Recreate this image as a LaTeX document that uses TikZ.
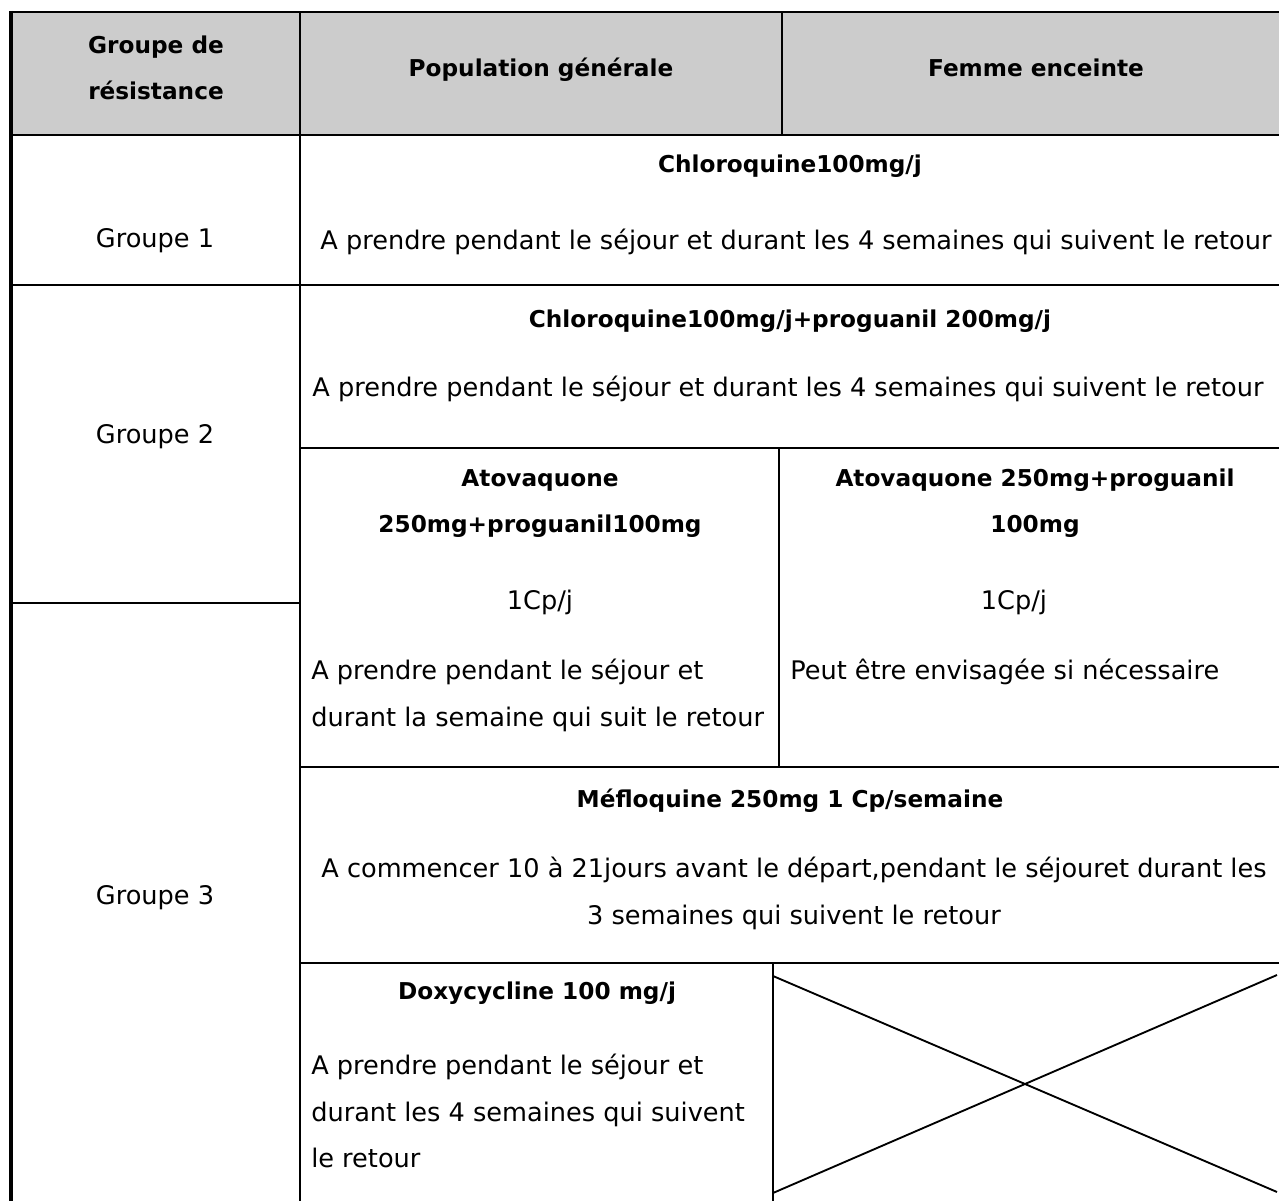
\documentclass[tikz,border=0pt]{standalone}
\usepackage{fontspec}
\setmainfont{DejaVu Sans}
\definecolor{hdr}{RGB}{204,204,204}
\begin{document}
\begin{tikzpicture}[x=0.75pt,y=-0.75pt,
  reg/.style={font=\fontsize{19.2}{22}\selectfont, inner sep=0pt, anchor=mid},
  regl/.style={reg, anchor=mid west},
  bld/.style={font=\fontsize{17.4}{20}\selectfont\bfseries, inner sep=0pt, anchor=mid},
  rule/.style={line width=1.8pt},
  border/.style={line width=3.4pt}]
\useasboundingbox (0,0) rectangle (1279,1201);
% header background
\fill[hdr] (11,12) rectangle (1279,135);
% horizontal rules
\draw[rule] (11,12) -- (1279,12);
\draw[rule] (11,135) -- (1279,135);
\draw[rule] (11,285) -- (1279,285);
\draw[rule] (300,448) -- (1279,448);
\draw[rule] (11,603) -- (300,603);
\draw[rule] (300,767) -- (1279,767);
\draw[rule] (300,963) -- (1279,963);
% vertical rules
\draw[rule] (300,12) -- (300,1201);
\draw[rule] (782,12) -- (782,135);
\draw[rule] (779,448) -- (779,767);
\draw[rule] (773,963) -- (773,1201);
\draw[border] (11,11) -- (11,1201);
% crossed cell
\coordinate (xa) at (773,976);
\coordinate (xb) at (1277,1192);
\coordinate (xc) at (773,1193);
\coordinate (xd) at (1277,975);
\draw[line width=1.4pt] (xa) -- (xb);
\draw[line width=1.4pt] (xc) -- (xd);
% header
\node[bld] (h1a) at (156,50) {Groupe de};
\node[bld] (h1b) at (156,96) {résistance};
\node[bld] (h2) at (541,73) {Population générale};
\node[bld] (h3) at (1036,73) {Femme enceinte};
% group column
\node[reg] (g1) at (155,244) {Groupe 1};
\node[reg] (g2) at (155,440) {Groupe 2};
\node[reg] (g3) at (155,901) {Groupe 3};
% row 1
\node[bld] (r1a) at (790,169) {Chloroquine100mg/j};
\node[reg] (r1b) at (796,246) {A prendre pendant le séjour et durant les 4 semaines qui suivent le retour};
% row 2
\node[bld] (r2a) at (790,324) {Chloroquine100mg/j+proguanil 200mg/j};
\node[reg] (r2b) at (788,393) {A prendre pendant le séjour et durant les 4 semaines qui suivent le retour};
% atovaquone
\node[bld] (a1) at (540,483) {Atovaquone};
\node[bld] (a2) at (540,529) {250mg+proguanil100mg};
\node[reg] (a3) at (540,606) {1Cp/j};
\node[regl] (a4) at (311,676) {A prendre pendant le séjour et};
\node[regl] (a5) at (311,723) {durant la semaine qui suit le retour};
\node[bld] (b1) at (1035,483) {Atovaquone 250mg+proguanil};
\node[bld] (b2) at (1035,529) {100mg};
\node[reg] (b3) at (1014,606) {1Cp/j};
\node[regl] (b4) at (790,676) {Peut être envisagée si nécessaire};
% mefloquine
\node[bld] (m1) at (790,804) {Méfloquine 250mg 1 Cp/semaine};
\node[reg] (m2) at (794,874) {A commencer 10 à 21jours avant le départ,pendant le séjouret durant les};
\node[reg] (m3) at (794,921) {3 semaines qui suivent le retour};
% doxycycline
\node[bld] (d1) at (537,996) {Doxycycline 100 mg/j};
\node[regl] (d2) at (311,1071) {A prendre pendant le séjour et};
\node[regl] (d3) at (311,1118) {durant les 4 semaines qui suivent};
\node[regl] (d4) at (311,1164) {le retour};
\end{tikzpicture}
\end{document}
